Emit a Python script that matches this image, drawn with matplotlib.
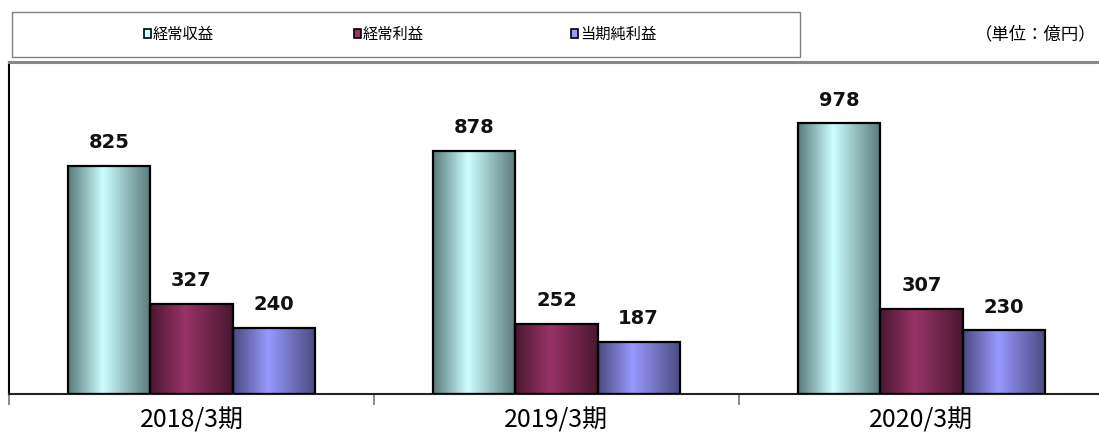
import numpy as np
import matplotlib
matplotlib.use("Agg")
import matplotlib.pyplot as plt
from matplotlib.colors import LinearSegmentedColormap
from matplotlib.patches import Rectangle

plt.rcParams['font.family'] = ['Noto Sans CJK JP', 'DejaVu Sans']

# Data
periods = ["2018/3期", "2019/3期", "2020/3期"]
series_names = ["経常収益", "経常利益", "当期純利益"]
revenue = [825, 878, 978]
ordinary_profit = [327, 252, 307]
net_profit = [240, 187, 230]
unit_text = "（単位：億円）"

series_values = [revenue, ordinary_profit, net_profit]
# (dark edge, light center) for gradient fills
shades = [("#5a7a7a", "#ccffff"), ("#4a1830", "#993366"), ("#4a4a80", "#9999ff")]

fig = plt.figure(figsize=(10.99, 4.41), dpi=100)
ax = fig.add_axes([9 / 1099, 47 / 441, 1095 / 1099, 332 / 441])

x = np.arange(len(periods))
width = 0.2247
grad = np.linspace(0, 1, 128).reshape(1, -1)

for i, (vals, (dark, light)) in enumerate(zip(series_values, shades)):
    cmap = LinearSegmentedColormap.from_list(
        f"g{i}", [(0, dark), (0.42, light), (1, dark)])
    pos = x + (i - 1) * width
    bars = ax.bar(pos, vals, width, facecolor="none", edgecolor="black",
                  linewidth=1.6, zorder=3)
    for b, v in zip(bars, vals):
        x0 = b.get_x()
        ax.imshow(grad, extent=[x0, x0 + width, 0, v], aspect="auto",
                  cmap=cmap, zorder=2, interpolation="bicubic")
        ax.text(b.get_x() + width / 2, v + 50, str(v), ha="center",
                va="bottom", fontsize=14, fontweight="bold",
                family="DejaVu Sans", color="#111111")

ax.set_xlim(-0.5, 2.5)
ax.set_ylim(0, 1200)
ax.set_yticks([])
ax.set_xticks(x)
ax.set_xticklabels(periods, fontsize=18)
ax.tick_params(axis="x", which="major", length=0, pad=10)
ax.set_xticks([-0.5, 0.5, 1.5, 2.5], minor=True)
ax.tick_params(axis="x", which="minor", length=8, width=1.2, color="#777777")

ax.spines["left"].set_color("black")
ax.spines["left"].set_linewidth(1.5)
ax.spines["bottom"].set_color("#222222")
ax.spines["bottom"].set_linewidth(1.5)
ax.spines["top"].set_color("#888888")
ax.spines["top"].set_linewidth(2.2)
ax.spines["right"].set_visible(False)

# legend box drawn in figure pixels
W, H = 1099, 441
fig.patches.append(Rectangle((12 / W, 1 - 57 / H), 788 / W, 45 / H,
                             transform=fig.transFigure, facecolor="white",
                             edgecolor="#808080", linewidth=1))
leg_x = [144, 354, 571]
for name, (dark, light), lx in zip(series_names, shades, leg_x):
    fig.patches.append(Rectangle((lx / W, 1 - 38 / H), 7 / W, 9 / H,
                                 transform=fig.transFigure, facecolor=light,
                                 edgecolor="black", linewidth=1.2))
    fig.text((lx + 9) / W, 1 - 34 / H, name, fontsize=11, va="center",
             ha="left")
fig.text(1097 / W, 1 - 34 / H, unit_text, fontsize=12.5, va="center",
         ha="right")

fig.savefig("out.png", dpi=100)
